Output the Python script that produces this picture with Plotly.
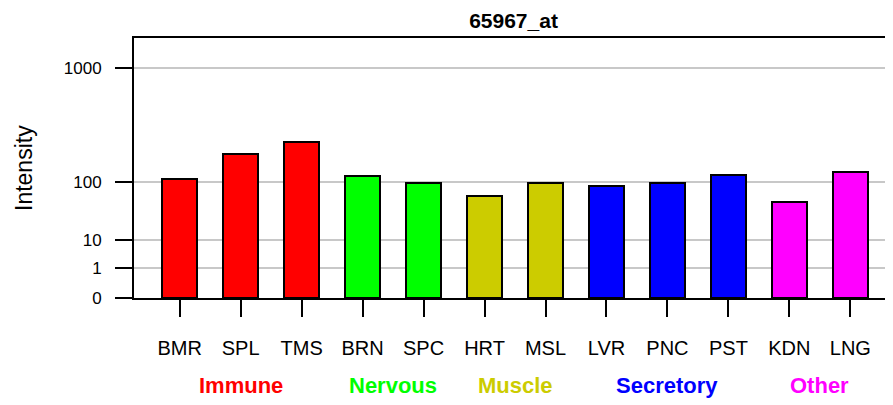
import numpy as np
import plotly.graph_objects as go

# ---- data ----
categories = ["BMR", "SPL", "TMS", "BRN", "SPC", "HRT", "MSL", "LVR", "PNC", "PST", "KDN", "LNG"]
intensity = [106, 176, 224, 113, 97, 57, 97, 85, 98, 115, 45, 122]
groups = ["Immune", "Immune", "Immune", "Nervous", "Nervous", "Muscle", "Muscle",
          "Secretory", "Secretory", "Secretory", "Other", "Other"]
group_names = ["Immune", "Nervous", "Muscle", "Secretory", "Other"]
group_colors = {"Immune": "#FF0000", "Nervous": "#00FF00", "Muscle": "#CCCC00",
                "Secretory": "#0000FF", "Other": "#FF00FF"}
tick_values = [0, 1, 10, 100, 1000]
title_text = "65967_at"

# ---- custom compressed scale (as in the original chart) ----
_anchor_v = np.array([0, 1, 10, 100, 1000], dtype=float)
_anchor_p = np.array([0, 30, 58, 116, 230], dtype=float)


def scale(v):
    v = np.asarray(v, dtype=float)
    out = np.empty_like(v)
    low = v <= 1
    out[low] = v[low] * _anchor_p[1]
    lv = np.log10(np.clip(v[~low], 1, None))
    out[~low] = np.interp(lv, np.log10(_anchor_v[1:]), _anchor_p[1:])
    return out


colors = [group_colors[g] for g in groups]

# page body has an 8px margin, so the figure is drawn 8px in from the corner
W, H = 885, 397
L, T, B, R = 126, 30, 107, 0
plot_w = W - L - R
plot_h = H - T - B

fig = go.Figure()
fig.add_trace(go.Bar(
    x=list(range(len(categories))),
    y=scale(intensity),
    width=0.57,
    marker=dict(color=colors, line=dict(color="black", width=2)),
    customdata=intensity,
    hovertemplate="%{customdata}<extra></extra>",
))

sans = "Liberation Sans, Arial, sans-serif"

fig.update_layout(
    width=W, height=H,
    margin=dict(l=L, r=R, t=T, b=B),
    plot_bgcolor="white", paper_bgcolor="white",
    showlegend=False,
    title=dict(text=title_text, x=(L + W) / 2 / W, xanchor="center",
               y=1 - 13 / H, yanchor="middle",
               font=dict(family=sans, size=21, color="black", weight="bold")),
    bargap=0,
)

fig.update_xaxes(
    range=[-0.75, 11.7],
    tickmode="array", tickvals=list(range(len(categories))), ticktext=categories,
    ticks="outside", ticklen=17, tickwidth=2, tickcolor="black",
    ticklabelstandoff=14,
    tickfont=dict(family=sans, size=20, color="black"),
    showline=True, linecolor="black", linewidth=2, mirror=True,
    showgrid=False, zeroline=False,
)
fig.update_yaxes(
    range=[0, 260],
    tickmode="array", tickvals=scale(tick_values), ticktext=[str(t) for t in tick_values],
    ticks="outside", ticklen=17, tickwidth=2, tickcolor="black",
    ticklabelstandoff=10,
    tickfont=dict(family=sans, size=17, color="black"),
    showline=True, linecolor="black", linewidth=2,
    showgrid=True, gridcolor="#C8C8C8", gridwidth=2, zeroline=False,
)

# y axis title
fig.add_annotation(
    text="Intensity", textangle=-90, xref="paper", yref="paper",
    x=(24 - 134) / plot_w, y=0.5, xanchor="center", yanchor="middle", showarrow=False,
    font=dict(family=sans, size=23, color="black"),
)

# group labels, centred under their categories
for g in group_names:
    idx = [i for i, gg in enumerate(groups) if gg == g]
    fig.add_annotation(
        text=g, x=float(np.mean(idx)), xref="x", yref="paper",
        y=-(385 - 298) / plot_h, yanchor="middle", xanchor="center", showarrow=False,
        font=dict(family=sans, size=22, color=group_colors[g], weight="bold"),
    )

fig.write_html("out.html")
